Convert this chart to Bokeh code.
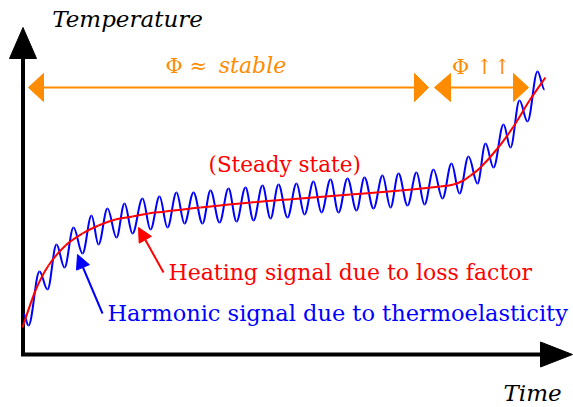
from bokeh.plotting import figure
from bokeh.models import Arrow, NormalHead
from bokeh.core.properties import value
from bokeh.embed import file_html
from bokeh.resources import INLINE

# ---- data (time, temperature) in arbitrary chart units ----
RED_T = [0, 13, 26, 43, 60, 76, 93, 110, 126, 143, 178, 228, 278, 328, 378, 418, 431, 441, 448, 458, 475, 491, 507, 523]
RED_V = [27, 64, 89, 109, 121, 129, 135, 138, 141, 143, 147, 152, 156, 160, 164, 168, 170, 174, 179, 187, 206, 228, 254, 277]

# extrema (start, then troughs / peaks alternately, end) of the harmonic signal
BLUE_T = [1, 6, 17, 25, 34, 42, 51, 60, 69, 76, 85, 94, 102, 110, 120, 128, 137, 145, 154, 162,
          171, 180, 188, 197, 206, 214, 223, 231, 240, 248, 256, 265, 274, 282, 291, 299, 308, 316,
          325, 334, 342, 351, 360, 368, 376, 385, 394, 402, 411, 420, 429, 437, 446, 455, 463, 471,
          481, 488, 497, 505, 515, 522]
BLUE_V = [41, 29, 83, 65, 110, 87, 127, 101, 139, 110, 146, 117, 151, 121, 156, 125, 158, 127, 162, 131,
          162, 131, 164, 132, 166, 133, 167, 134, 169, 136, 170, 137, 171, 140, 173, 142, 175, 142,
          176, 144, 177, 146, 179, 147, 181, 149, 182, 150, 185, 156, 191, 161, 198, 171, 211, 187,
          230, 207, 254, 233, 283, 265]

RED = "#FF0000"
BLUE = "#0000FF"
ORANGE = "#FF8C00"
FONT = "DejaVu Serif"

p = figure(width=573, height=407, x_range=(-22, 551), y_range=(-53, 354),
           output_backend="svg", toolbar_location=None, min_border=0,
           x_axis_location=None, y_axis_location=None)
p.grid.visible = False
p.outline_line_color = None

# axes with arrow heads
p.segment(x0=[0.5, -1.5], y0=[-1.5, 0], x1=[0.5, 520], y1=[297, 0], line_color="black", line_width=4)
p.patch([-13, 0.5, 14], [296, 327, 296], color="black")
p.patch([518, 550, 518], [12.5, 0, -12.5], color="black")

# orange phase arrows
OY = 267
p.segment(x0=[14, 426], y0=[OY, OY], x1=[392, 494], y1=[OY, OY], line_color=ORANGE, line_width=2)
for tip, base in [(6, 21), (406, 392), (412, 428), (506, 491)]:
    p.patch([tip, base, base], [OY, OY + 14, OY - 14], color=ORANGE)

def catmull(xs, ys):
    n = len(xs)
    out = {k: [] for k in ("x0", "y0", "x1", "y1", "cx0", "cy0", "cx1", "cy1")}
    for i in range(n - 1):
        xm, ym = (xs[i - 1], ys[i - 1]) if i > 0 else (xs[i], ys[i])
        xp, yp = (xs[i + 2], ys[i + 2]) if i + 2 < n else (xs[i + 1], ys[i + 1])
        out["x0"].append(xs[i]); out["y0"].append(ys[i])
        out["x1"].append(xs[i + 1]); out["y1"].append(ys[i + 1])
        out["cx0"].append(xs[i] + (xs[i + 1] - xm) / 6); out["cy0"].append(ys[i] + (ys[i + 1] - ym) / 6)
        out["cx1"].append(xs[i + 1] - (xp - xs[i]) / 6); out["cy1"].append(ys[i + 1] - (yp - ys[i]) / 6)
    return out

def halfwaves(xs, ys, k=0.3642):
    out = {k2: [] for k2 in ("x0", "y0", "x1", "y1", "cx0", "cy0", "cx1", "cy1")}
    for i in range(len(xs) - 1):
        h = xs[i + 1] - xs[i]
        out["x0"].append(xs[i]); out["y0"].append(ys[i])
        out["x1"].append(xs[i + 1]); out["y1"].append(ys[i + 1])
        out["cx0"].append(xs[i] + k * h); out["cy0"].append(ys[i])
        out["cx1"].append(xs[i + 1] - k * h); out["cy1"].append(ys[i + 1])
    return out

p.bezier(**halfwaves(BLUE_T, BLUE_V), line_color=BLUE, line_width=2)
p.bezier(**catmull(RED_T, RED_V), line_color=RED, line_width=2)

p.add_layout(Arrow(end=NormalHead(size=14, fill_color=RED, line_color=RED),
                   x_start=141, y_start=82, x_end=116, y_end=127, line_color=RED, line_width=2))
p.add_layout(Arrow(end=NormalHead(size=14, fill_color=BLUE, line_color=BLUE),
                   x_start=80, y_start=41, x_end=55, y_end=100, line_color=BLUE, line_width=2))

def txt(x, base_px, s, color, size, style="normal", align="left"):
    y = 354 - base_px + 0.32 * size
    p.text(x=[x], y=[y], text=[s], text_color=color, text_font=value(FONT),
           text_font_size=f"{size}px", text_font_style=style,
           text_align=align, text_baseline="alphabetic")

txt(146, 279, "Heating signal due to loss factor", RED, 22)
txt(85, 320, "Harmonic signal due to thermoelasticity", BLUE, 22.5)
txt(186, 171, "(Steady state)", RED, 21.5)
txt(143, 72, "Φ ≈", ORANGE, 21)
txt(230, 72, "stable", ORANGE, 22, "italic", "center")
txt(459, 73, "Φ ↑↑", ORANGE, 21, "normal", "center")
txt(105, 26, "Temperature", "black", 23, "italic", "center")
txt(510, 400, "Time", "black", 23, "italic", "center")

open("out.html", "w").write(file_html(p, INLINE))
